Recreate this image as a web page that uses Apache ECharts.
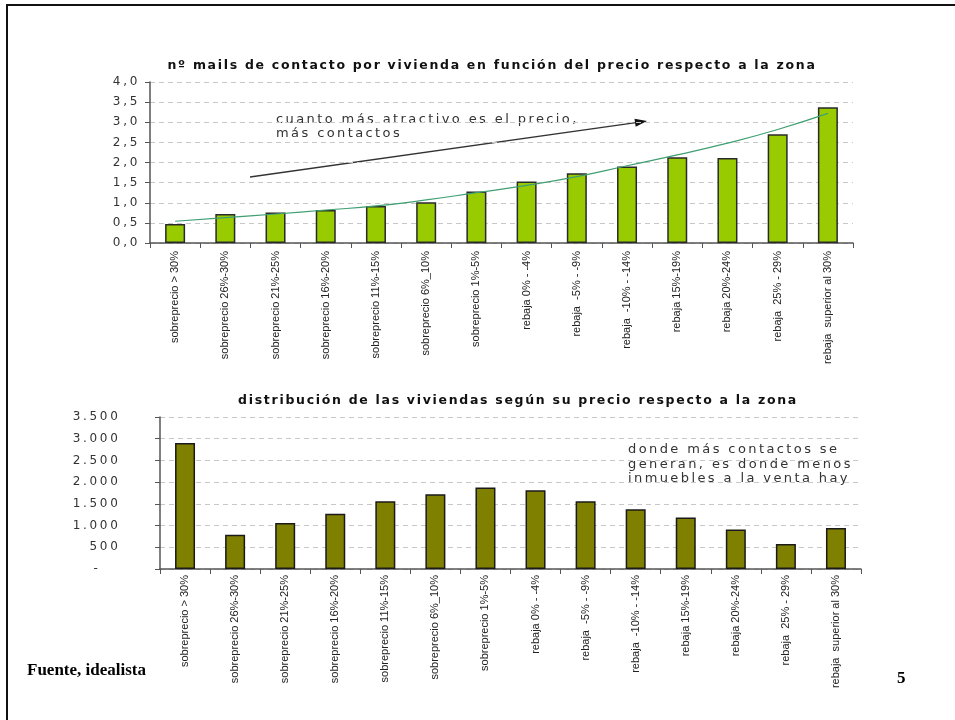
<!DOCTYPE html>
<html>
<head>
<meta charset="utf-8">
<script src="https://cdn.jsdelivr.net/npm/echarts@6/dist/echarts.min.js"></script>
<style>
html,body{margin:0;padding:0;background:#fff;}
#c{width:955px;height:720px;}
</style>
</head>
<body>
<div id="c"></div>
<script>
// ---- data ----
var categories = [
  'sobreprecio > 30%', 'sobreprecio 26%-30%', 'sobreprecio 21%-25%', 'sobreprecio 16%-20%',
  'sobreprecio 11%-15%', 'sobreprecio 6%_10%', 'sobreprecio 1%-5%', 'rebaja 0% - -4%',
  'rebaja  -5% - -9%', 'rebaja  -10% - -14%', 'rebaja 15%-19%', 'rebaja 20%-24%',
  'rebaja  25% - 29%', 'rebaja  superior al 30%'
];
var mailsPerHome = [0.47, 0.72, 0.76, 0.82, 0.92, 1.01, 1.28, 1.53, 1.73, 1.90, 2.13, 2.11, 2.70, 3.37];
var mailsTrend   = [0.54, 0.63, 0.72, 0.82, 0.92, 1.07, 1.25, 1.43, 1.65, 1.92, 2.19, 2.48, 2.82, 3.22];
var homesCount   = [2900, 790, 1060, 1275, 1560, 1723, 1876, 1815, 1560, 1377, 1184, 907, 577, 946];

var topTitle = 'nº mails de contacto por vivienda en función del precio respecto a la zona';
var bottomTitle = 'distribución de las viviendas según su precio respecto a la zona';
var topNote = 'cuanto más atractivo es el precio,\nmás contactos';
var bottomNote = 'donde más contactos se\ngeneran, es donde menos\ninmuebles a la venta hay';

// ---- letter spacing emulation (the original uses widely tracked Verdana-like text) ----
(function () {
  var P = CanvasRenderingContext2D.prototype;
  if (!('letterSpacing' in P)) return;
  function spacingFor(font) {
    if (font.indexOf('DejaVu Sans') < 0) return '0px';
    if (/bold|700/.test(font)) return '1.7px';
    if (/\b13px/.test(font)) return '2.4px';
    if (/\b12px/.test(font)) return '2.7px';
    return '0px';
  }
  ['fillText', 'strokeText', 'measureText'].forEach(function (name) {
    var orig = P[name];
    P[name] = function () {
      var prev = this.letterSpacing;
      this.letterSpacing = spacingFor(this.font);
      var r = orig.apply(this, arguments);
      this.letterSpacing = prev;
      return r;
    };
  });
})();

// ---- chart ----
var chart = echarts.init(document.getElementById('c'), null, {renderer: 'canvas'});
var axisLineColor = '#555';
var labelFont = 'DejaVu Sans';
function xAxisCfg(gi, margin) {
  return {
    type: 'category', gridIndex: gi, data: categories, boundaryGap: true,
    axisLine: {lineStyle: {color: axisLineColor, width: 1.5}},
    axisTick: {show: true, length: 5, lineStyle: {color: axisLineColor}},
    axisLabel: {rotate: 90, interval: 0, margin: margin, fontFamily: 'Liberation Sans', fontSize: 11, color: '#222'},
    splitLine: {show: false}
  };
}
var option = {
  animation: false,
  title: [
    {text: topTitle, left: 487, top: 53, textAlign: 'center',
     textStyle: {fontFamily: labelFont, fontWeight: 'bold', fontSize: 12.5, color: '#111'}},
    {text: bottomTitle, left: 513, top: 388, textAlign: 'center',
     textStyle: {fontFamily: labelFont, fontWeight: 'bold', fontSize: 12.5, color: '#111'}}
  ],
  grid: [
    {left: 150, top: 82, width: 703, height: 161, containLabel: false},
    {left: 160, top: 417, width: 701, height: 152, containLabel: false}
  ],
  xAxis: [xAxisCfg(0, 8), xAxisCfg(1, 6)],
  yAxis: [
    {type: 'value', gridIndex: 0, min: 0, max: 4, interval: 0.5,
     axisLine: {show: true, lineStyle: {color: axisLineColor, width: 1.5}},
     axisTick: {show: true, length: 5, lineStyle: {color: axisLineColor}},
     axisLabel: {margin: 10, fontFamily: labelFont, fontSize: 12, color: '#333',
       formatter: function (v) { return v.toFixed(1).replace('.', ','); }},
     splitLine: {show: true, lineStyle: {color: '#c8c8c8', type: [5, 4]}}},
    {type: 'value', gridIndex: 1, min: 0, max: 3500, interval: 500,
     axisLine: {show: true, lineStyle: {color: axisLineColor, width: 1.5}},
     axisTick: {show: true, length: 5, lineStyle: {color: axisLineColor}},
     axisLabel: {margin: 39.5, fontFamily: labelFont, fontSize: 12, color: '#333',
       formatter: function (v) {
         if (v === 0) return '{d|-}';
         return String(v).replace(/\B(?=(\d{3})+(?!\d))/g, '.');
       },
       rich: {d: {padding: [0, 20, 0, 0], fontFamily: labelFont, fontSize: 12, color: '#333'}}},
     splitLine: {show: true, lineStyle: {color: '#c8c8c8', type: [5, 4]}}}
  ],
  series: [
    {type: 'bar', xAxisIndex: 0, yAxisIndex: 0, data: mailsPerHome, barWidth: 20,
     itemStyle: {color: '#99cc00', borderColor: '#2a2a2a', borderWidth: 1.5}},
    {type: 'line', xAxisIndex: 0, yAxisIndex: 0, data: mailsTrend, smooth: true, symbol: 'none',
     lineStyle: {color: '#3f9f72', width: 1.2}, z: 5},
    {type: 'bar', xAxisIndex: 1, yAxisIndex: 1, data: homesCount, barWidth: 20,
     itemStyle: {color: '#808000', borderColor: '#1a1a1a', borderWidth: 1.5}}
  ],
  graphic: [
    // page frame
    {type: 'rect', shape: {x: 6, y: 4, width: 960, height: 2}, style: {fill: '#111'}, silent: true},
    {type: 'rect', shape: {x: 6, y: 4, width: 2, height: 720}, style: {fill: '#111'}, silent: true},
    // arrow annotation
    {type: 'line', shape: {x1: 250, y1: 177, x2: 636, y2: 122.6}, style: {stroke: '#333', lineWidth: 1.3}, silent: true},
    {type: 'polygon', shape: {points: [[647, 121], [635.7, 126.7], [634.5, 118.7]]}, style: {fill: '#111'}, silent: true},
    {type: 'text', left: 276, top: 112, style: {text: topNote, font: '13px DejaVu Sans', fill: '#333', lineHeight: 13.5}, silent: true},
    {type: 'text', left: 628, top: 442, style: {text: bottomNote, font: '13px DejaVu Sans', fill: '#333', lineHeight: 14.5}, silent: true},
    {type: 'text', left: 27, top: 662, style: {text: 'Fuente, idealista', font: 'bold 17px Liberation Serif', fill: '#000'}, silent: true},
    {type: 'text', left: 897, top: 670, style: {text: '5', font: 'bold 17px Liberation Serif', fill: '#000'}, silent: true}
  ]
};
chart.setOption(option);
</script>
</body>
</html>
